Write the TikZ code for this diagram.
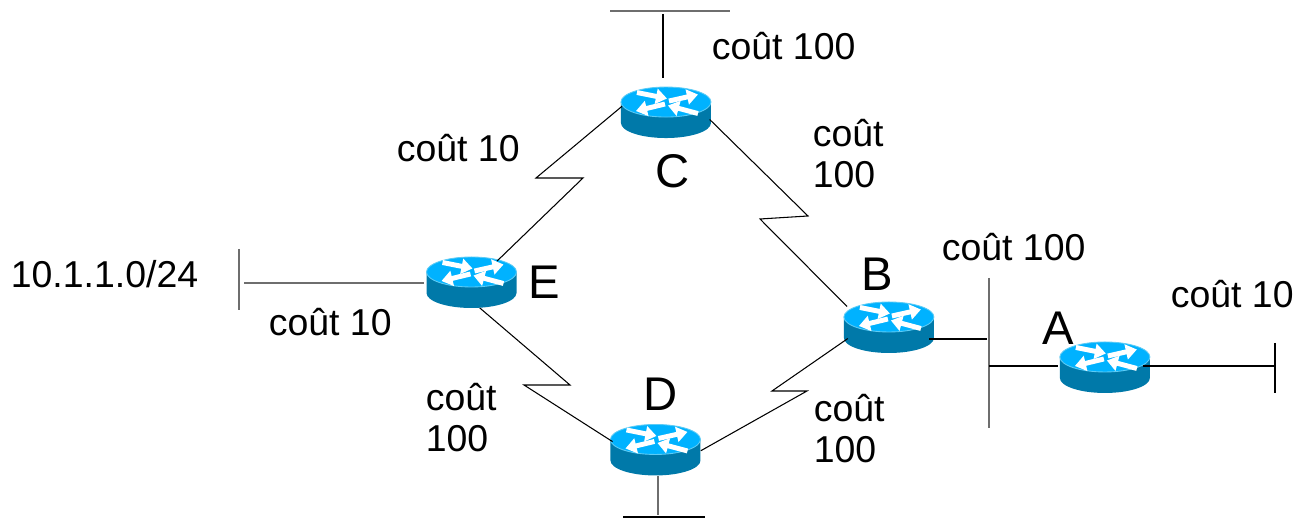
\documentclass[tikz,border=0pt]{standalone}
\usepackage{fontspec}
\setmainfont{Liberation Sans}
\usetikzlibrary{arrows.meta,positioning,shapes.geometric}
\definecolor{routertop}{HTML}{00B2FF}
\definecolor{routerside}{HTML}{0079A9}
\definecolor{routerseam}{HTML}{5CCBF5}
\definecolor{netgray}{HTML}{6E6E6E}

\tikzset{
  router/.style={ellipse, minimum width=1.8cm, minimum height=1.02cm, inner sep=0pt},
  routerarrow/.style={white, line width=2.8pt, -{Triangle[length=.22cm, width=.3cm]}},
  routerpic/.pic={
    \fill[routerside] (-45,-10.5) -- (-45,10.5) arc[start angle=180, end angle=0, x radius=45, y radius=15]
      -- (45,-10.5) -- cycle;
    \path[fill=routertop, draw=routerseam, line width=.5pt] (0,-10.5) ellipse[x radius=45, y radius=15];
    \draw[routerarrow] (-29,-20) -- (1,-14);
    \draw[routerarrow] (3,-11.5) -- (32,-18);
    \draw[routerarrow] (-1,-8.5) -- (-30,-1.5);
    \draw[routerarrow] (32,1) -- (2,-7);
  },
  netline/.style={black, line width=.6pt},
  netbar/.style={netgray, line width=.9pt},
  costlabel/.style={anchor=base west, inner sep=0pt, font=\fontsize{21.3}{23.8}\selectfont},
  costwrap/.style={costlabel, align=left},
  routername/.style={anchor=base west, inner sep=0pt, font=\fontsize{26.9}{30}\selectfont},
}

\begin{document}
\begin{tikzpicture}[x=.02cm, y=-.02cm, on grid]
  \useasboundingbox (0,0) rectangle (1295,519);

  % Routers
  \node[router] (E) at (471.5,282.5) {};
  \node[router, above right=3.4cm and 3.89cm of E] (C) {};
  \node[router, below right=3.35cm and 3.68cm of E] (D) {};
  \node[router, above right=2.45cm and 4.67cm of D] (B) {};
  \node[router, below right=.8cm and 4.32cm of B] (A) {};
  \foreach \r in {A,B,C,D,E}
    \path (\r) pic {routerpic};

  % Free ends
  \coordinate (Ctopl) at (610,11);
  \coordinate (Ctopr) at (730,11);
  \coordinate (Cstub) at (663,14);
  \coordinate (Dbotl) at (623,517);
  \coordinate (Dbotr) at (705,517);
  \coordinate (Dstub) at (658,515);
  \coordinate (Ebart) at (239,249);
  \coordinate (Ebarb) at (239,310);
  \coordinate (Estub) at (244,283);
  \coordinate (Bbart) at (989,278);
  \coordinate (Bbarb) at (989,428);
  \coordinate (Bstub) at (987,339);
  \coordinate (Aleft) at (989,366);
  \coordinate (Abart) at (1275,343);
  \coordinate (Abarb) at (1275,393);
  \coordinate (Aright) at (1274,366);

  % Bends
  \coordinate (ecu) at (536,178);
  \coordinate (ecl) at (583,178);
  \coordinate (cbu) at (808,216);
  \coordinate (cbl) at (760,219);
  \coordinate (edu) at (570,385);
  \coordinate (edl) at (524,385);
  \coordinate (dbl) at (807,391);
  \coordinate (dbu) at (772,391);

  % Links
  \draw[netline] (E.40) -- (ecl) -- (ecu) -- (C.172);
  \draw[netline, shorten >=.156cm] (C.-9) -- (cbu) -- (cbl) -- (B.157.7);
  \draw[netline] (E.-72) -- (edu) -- (edl) -- (D.169);
  \draw[netline] (D.-1) -- (dbl) -- (dbu) -- (B.195);

  % Stubs
  \draw[netbar] (Ctopl) -- (Ctopr);
  \draw[netline, shorten >=.18cm] (Cstub) -- (Cstub |- C.north);
  \draw[netline] (Dbotl) -- (Dbotr);
  \draw[netbar] (Dstub) -- (Dstub |- D.south);
  \draw[netbar] (Ebart) -- (Ebarb);
  \draw[netbar, shorten >=.04cm] (Estub) -- (Estub -| E.west);
  \draw[netbar] (Bbart) -- (Bbarb);
  \draw[netline, shorten >=-.1cm] (Bstub) -- (Bstub -| B.east);
  \draw[netline, shorten >=.04cm] (Aleft) -- (Aleft -| A.west);
  \draw[netline] (Abart) -- (Abarb);
  \draw[netline, shorten >=-.14cm] (Aright) -- (Aright -| A.east);

  % Labels
  \node[routername] (nameA) at (1042,345) {A};
  \node[routername] (nameB) at (861,291) {B};
  \node[routername] (nameC) at (655,188) {C};
  \node[routername] (nameD) at (643,411) {D};
  \node[routername] (nameE) at (528,299) {E};
  \node[costlabel] (net) at (10.5,288) {10.1.1.0/24};
  \node[costlabel] (costCnet) at (711.5,60) {coût 100};
  \node[costlabel] (costEC) at (396.5,162) {coût 10};
  \node[costlabel] (costEnet) at (268.5,336) {coût 10};
  \node[costlabel] (costBnet) at (941.5,261) {coût 100};
  \node[costlabel] (costAnet) at (1170.5,308) {coût 10};
  \node[costwrap] (costCB) at (812.5,188) {coût\\100};
  \node[costwrap] (costED) at (425.5,452) {coût\\100};
  \node[costwrap] (costDB) at (813.5,463) {coût\\100};
\end{tikzpicture}
\end{document}
